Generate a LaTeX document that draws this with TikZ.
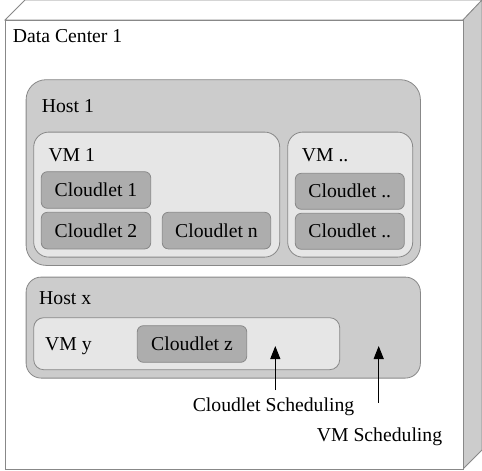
\documentclass[tikz,border=0pt]{standalone}
\usepackage{fontspec}
\setmainfont{Liberation Serif}
\usetikzlibrary{arrows.meta}
\definecolor{edgegray}{HTML}{888888}
\definecolor{hostfill}{HTML}{CCCCCC}
\definecolor{vmfill}{HTML}{E6E6E6}
\definecolor{clfill}{HTML}{ADADAD}
\begin{document}
\begin{tikzpicture}[x=1pt,y=-1pt,
  every node/.style={font=\fontsize{19.7}{22}\selectfont},
  box/.style={draw=edgegray,line width=0.8pt,rectangle,anchor=north west,inner sep=0pt},
  hostbox/.style={box,fill=hostfill,rounded corners=#1},
  vmbox/.style={box,fill=vmfill,rounded corners=#1},
  clbox/.style={draw=edgegray,line width=0.8pt,fill=clfill,rounded corners=6pt,inner sep=0pt},
  lbl/.style={anchor=base west,inner sep=0pt},
  arr/.style={-{Triangle[length=13pt,width=10pt]},line width=1.1pt,black}]
\useasboundingbox (0,0) rectangle (482,471);
% data center cube
\draw[edgegray,line width=0.8pt,fill=white] (5,20) -- (25,0) -- (482,0) -- (463,20) -- cycle;
\draw[edgegray,line width=0.8pt,fill=hostfill] (463,20) -- (482,0) -- (482,450) -- (463,469) -- cycle;
\draw[edgegray,line width=0.8pt,fill=white] (5,20) rectangle (463,469);
\node[lbl] (dc) at (12.7,42.7) {Data Center 1};
% Host 1
\node[hostbox=20pt,minimum width=394.3pt,minimum height=185.7pt] (host1) at (25.7,79.3) {};
\node[lbl] (host1l) at (41.7,112) {Host 1};
\node[vmbox=15pt,minimum width=246pt,minimum height=125pt] (vm1) at (33.3,131.7) {};
\node[lbl] (vm1l) at (48.3,161) {VM 1};
\node[vmbox=15pt,minimum width=125pt,minimum height=125pt] (vmd) at (287.3,131.7) {};
\node[lbl] (vmdl) at (301.7,161) {VM ..};
\node[clbox,minimum width=109.4pt,minimum height=36.6pt] (c1) at (96,190) {Cloudlet 1};
\node[clbox,minimum width=109.4pt,minimum height=36.6pt] (c2) at (96,230.6) {Cloudlet 2};
\node[clbox,minimum width=108.4pt,minimum height=36.6pt] (cn) at (216.5,230.6) {Cloudlet n};
\node[clbox,minimum width=109pt,minimum height=36pt] (cd1) at (349.8,191.3) {Cloudlet ..};
\node[clbox,minimum width=109pt,minimum height=36pt] (cd2) at (349.8,231.3) {Cloudlet ..};
% Host x
\node[hostbox=15pt,minimum width=394.3pt,minimum height=101pt] (hostx) at (25.7,276.7) {};
\node[lbl] (hostxl) at (39,304.3) {Host x};
\node[vmbox=10pt,minimum width=306pt,minimum height=52pt] (vmy) at (33.3,317.3) {};
\node[lbl] (vmyl) at (45,350.7) {VM y};
\node[clbox,minimum width=109.4pt,minimum height=36.6pt] (cz) at (192,344) {Cloudlet z};
% scheduling labels
\node[anchor=base,inner sep=0pt] (cs) at (273.5,411.7) {Cloudlet Scheduling};
\node[anchor=base,inner sep=0pt] (vs) at (379.5,441.7) {VM Scheduling};
\coordinate (cstail) at (275.3,390);
\coordinate (cstip) at (275.3,346);
\coordinate (vstail) at (378.7,402.7);
\coordinate (vstip) at (378.7,346);
\draw[arr] (cstail) -- (cstip);
\draw[arr] (vstail) -- (vstip);
\end{tikzpicture}
\end{document}
